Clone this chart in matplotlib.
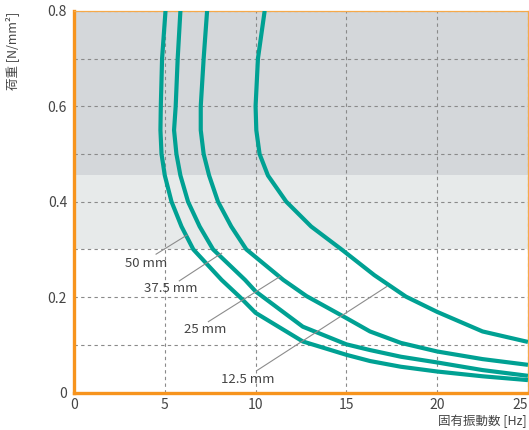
"""
荷重と固有振動数 — 厚さ別の曲線 (12.5 / 25 / 37.5 / 50 mm)
"""

import matplotlib
matplotlib.use('Agg')
import matplotlib.pyplot as plt

plt.rcParams['font.family'] = ['Noto Sans CJK JP', 'DejaVu Sans']

# ─────────────────────────────────────────────
# Données
# ─────────────────────────────────────────────

f_125 = [10.50, 10.13, 10.00, 10.04, 10.22, 10.68, 11.69, 13.06, 14.80, 16.54, 18.28, 20.00, 22.50, 25.00]
q_125 = [0.800, 0.700, 0.600, 0.550, 0.500, 0.455, 0.400, 0.348, 0.298, 0.246, 0.201, 0.169, 0.128, 0.106]

f_25 = [7.33, 7.14, 6.98, 6.98, 7.14, 7.44, 7.93, 8.66, 9.49, 11.53, 12.81, 15.0, 16.3, 18.0, 20.0, 22.5, 25.0]
q_25 = [0.800, 0.700, 0.600, 0.550, 0.500, 0.455, 0.400, 0.348, 0.300, 0.236, 0.202, 0.156, 0.128, 0.104, 0.086, 0.070, 0.058]

f_375 = [5.86, 5.71, 5.60, 5.51, 5.64, 5.86, 6.28, 6.92, 7.66, 9.42, 10.0, 12.6, 15.0, 16.3, 18.0, 20.0, 22.5, 25.0]
q_375 = [0.800, 0.700, 0.600, 0.550, 0.500, 0.455, 0.400, 0.348, 0.300, 0.236, 0.212, 0.138, 0.101, 0.089, 0.075, 0.063, 0.047, 0.035]

f_50 = [5.04, 4.85, 4.78, 4.76, 4.82, 5.00, 5.37, 5.92, 6.57, 8.13, 9.14, 10.0, 12.6, 15.0, 16.3, 18.0, 20.0, 22.5, 25.0]
q_50 = [0.800, 0.700, 0.600, 0.550, 0.500, 0.455, 0.400, 0.348, 0.300, 0.236, 0.200, 0.167, 0.107, 0.079, 0.066, 0.054, 0.044, 0.034, 0.026]

x_ticks = [0, 5, 10, 15, 20, 25]
y_ticks = [0, 0.2, 0.4, 0.6, 0.8]
y_tick_labels = ['0', '0.2', '0.4', '0.6', '0.8']

# zones grisées (bornes en charge)
zone_dark = (0.455, 0.8)
zone_light = (0.3, 0.455)

TEAL = '#00a193'
ORANGE = '#f7941d'
TXT = '#444444'

fig = plt.figure(figsize=(5.29, 4.30), dpi=100)
ax = fig.add_axes([0.1399, 0.0872, 0.998 - 0.1399, 0.9747 - 0.0872])

ax.axhspan(*zone_dark, color='#d4d7da', zorder=0, lw=0)
ax.axhspan(*zone_light, color='#e7eaea', zorder=0, lw=0)

# grille pointillée
ax.set_xticks(x_ticks)
ax.set_yticks(y_ticks)
ax.set_yticks([0.1, 0.3, 0.5, 0.7], minor=True)
ax.set_yticklabels(y_tick_labels)
ax.grid(True, which='both', color='#8a8a8a', linestyle=(0, (3, 3)), linewidth=0.8, zorder=1)
ax.set_axisbelow(True)

for f, q in [(f_125, q_125), (f_25, q_25), (f_375, q_375), (f_50, q_50)]:
    ax.plot(f, q, color=TEAL, linewidth=3.0, solid_capstyle='butt',
            solid_joinstyle='round', zorder=3)

# étiquettes + traits de rappel
labels = [
    ('50 mm',   (3.96, 0.2705), (4.52, 0.290), (6.22, 0.330)),
    ('37.5 mm', (5.33, 0.2184), (5.80, 0.234), (8.13, 0.292)),
    ('25 mm',   (7.21, 0.1325), (7.40, 0.1485), (11.34, 0.243)),
    ('12.5 mm', (9.55, 0.0277), (10.06, 0.0457), (17.22, 0.222)),
]
for txt, pos, p0, p1 in labels:
    ax.plot([p0[0], p1[0]], [p0[1], p1[1]], color='#8c8c8c', linewidth=0.8, zorder=4)
    ax.text(pos[0], pos[1], txt, ha='center', va='center', fontsize=9.5, color=TXT, zorder=5)

ax.set_xlim(0, 25)
ax.set_ylim(0, 0.8)

ax.tick_params(which='both', length=0, labelsize=10, labelcolor=TXT)
ax.tick_params(axis='x', pad=4)
ax.tick_params(axis='y', pad=5)
ax.get_xticklabels()[-1].set_horizontalalignment('right')

for side in ['left', 'bottom']:
    ax.spines[side].set_color(ORANGE)
    ax.spines[side].set_linewidth(2.4)
for side in ['top', 'right']:
    ax.spines[side].set_color('#f5a94a')
    ax.spines[side].set_linewidth(0.9)

fig.text(0.023, 0.972, '荷重 [N/mm²]', rotation=90, ha='center', va='top', fontsize=9, color=TXT)
fig.text(0.996, 0.021, '固有振動数 [Hz]', ha='right', va='center', fontsize=9, color=TXT)

fig.savefig('out.png', dpi=100)
